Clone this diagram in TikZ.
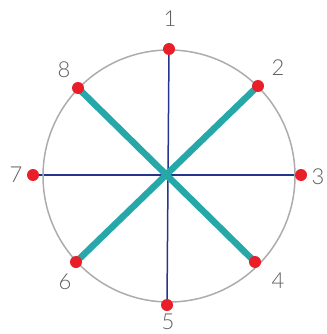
\documentclass[tikz,border=0pt]{standalone}
\usepackage{fontspec}
\setmainfont{Lato}[UprightFont=* Light]
\usepackage{xcolor}
\usetikzlibrary{backgrounds}
\definecolor{rimgray}{RGB}{172,172,172}
\definecolor{axisblue}{RGB}{38,52,140}
\definecolor{diagteal}{RGB}{38,168,170}
\definecolor{dotred}{RGB}{232,30,40}
\definecolor{labgray}{RGB}{95,95,95}
\tikzset{
  dotp/.style={circle, fill=dotred, inner sep=0pt, minimum size=12pt},
  lab/.style={text=labgray, font=\fontsize{22}{22}\selectfont, inner sep=0pt},
  axisline/.style={draw=axisblue, line width=1.5pt},
  diagline/.style={draw=diagteal, line width=6.5pt},
  every picture/.style={line cap=round, line join=round}
}
\begin{document}
\begin{tikzpicture}[x=1pt,y=-1pt]
  \useasboundingbox (0,0) rectangle (326,334);
  \draw[rimgray, line width=1.5pt] (169,176) circle (126);
  % points on the rim
  \node[dotp] (p1) at (169,49) {};
  \node[dotp] (p2) at (258,86) {};
  \node[dotp] (p3) at (301,175) {};
  \node[dotp] (p4) at (255,262) {};
  \node[dotp] (p5) at (167,305) {};
  \node[dotp] (p6) at (76,262) {};
  \node[dotp] (p7) at (33,175) {};
  \node[dotp] (p8) at (78,88) {};
  \begin{scope}[on background layer]
    \draw[axisline] (p7.center) -- (p3.center);
    \draw[axisline] (p1.center) -- (p5.center);
    \draw[diagline] (p8.center) -- (p4.center);
    \draw[diagline] (p2.center) -- (p6.center);
  \end{scope}
  \node[lab] (l1) at (170,19) {1};
  \node[lab] (l2) at (278,68) {2};
  \node[lab] (l3) at (318,177) {3};
  \node[lab] (l4) at (278,281) {4};
  \node[lab] (l5) at (168,322) {5};
  \node[lab] (l6) at (65,282) {6};
  \node[lab] (l7) at (16,175) {7};
  \node[lab] (l8) at (64,70) {8};
\end{tikzpicture}
\end{document}
